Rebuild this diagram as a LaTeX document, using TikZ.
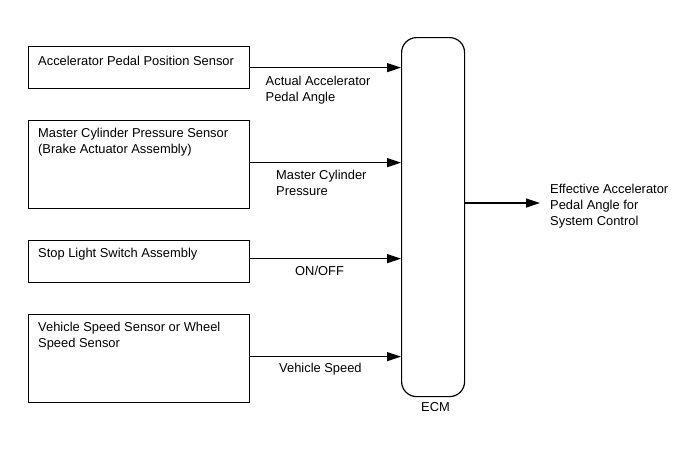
\documentclass[tikz,border=0pt]{standalone}
\usepackage{fontspec}
\setmainfont{Liberation Sans}
\usepackage{tikz}
\usetikzlibrary{positioning,calc}
\usetikzlibrary{arrows.meta}
\tikzset{
	sensor/.style={draw=black,line width=1.2pt,anchor=north west,minimum width=221pt,inner sep=0pt},
	boxtext/.style={anchor=north west,inner sep=0pt,align=left},
	ecu/.style={draw=black,line width=1.2pt,rounded corners=15pt,anchor=north west,
		minimum width=63pt,minimum height=359pt,inner sep=0pt},
	sig/.style={draw=black,line width=1.2pt,-{Triangle[length=14pt,width=9pt]}},
	siglabel/.style={anchor=north west,inner sep=0pt,align=left},
}

\begin{document}
\begin{tikzpicture}[x=1pt,y=-1pt,font=\fontsize{12.9}{16}\selectfont]
					\useasboundingbox (0,0) rectangle (688,463);
					% inputs
					\node[sensor,minimum height=42pt] (app) at (28,46) {};
					\node[boxtext] (apptext) at (38,55.5) {Accelerator Pedal Position Sensor};
					\node[sensor,minimum height=88pt] (mc) at (28,120) {};
					\node[boxtext] (mctext) at (38,127.5) {Master Cylinder Pressure Sensor\\(Brake Actuator Assembly)};
					\node[sensor,minimum height=42pt] (stop) at (28,240) {};
					\node[boxtext] (stoptext) at (38,247.5) {Stop Light Switch Assembly};
					\node[sensor,minimum height=88pt] (spd) at (28,314) {};
					\node[boxtext] (spdtext) at (38,321.5) {Vehicle Speed Sensor or Wheel\\Speed Sensor};
					% ECM
					\node[ecu] (ecm) at (401,37) {};
					\node[anchor=north,inner sep=0pt] (ecmtext) at (435.5,402.5) {ECM};
					% signals
					\draw[sig] (app.east) -- (app.east -| ecm.west);
					\draw[sig] ([yshift=2pt]mc.east) -- ([yshift=2pt]mc.east -| ecm.west);
					\draw[sig] ([yshift=3pt]stop.east) -- ([yshift=3pt]stop.east -| ecm.west);
					\draw[sig] ([yshift=2pt]spd.east) -- ([yshift=2pt]spd.east -| ecm.west);
					\node[siglabel] (l1) at (265.5,75.5) {Actual Accelerator\\Pedal Angle};
					\node[siglabel] (l2) at (276,169.5) {Master Cylinder\\Pressure};
					\node[siglabel] (l3) at (295,265.5) {ON/OFF};
					\node[siglabel] (l4) at (279,362.5) {Vehicle Speed};
					% output
					\coordinate (out) at (540,203);
					\draw[sig] (ecm.east |- out) -- (out);
					\node[siglabel] (eff) at (550,183.5) {Effective Accelerator\\Pedal Angle for\\System Control};
				\end{tikzpicture}
\end{document}
